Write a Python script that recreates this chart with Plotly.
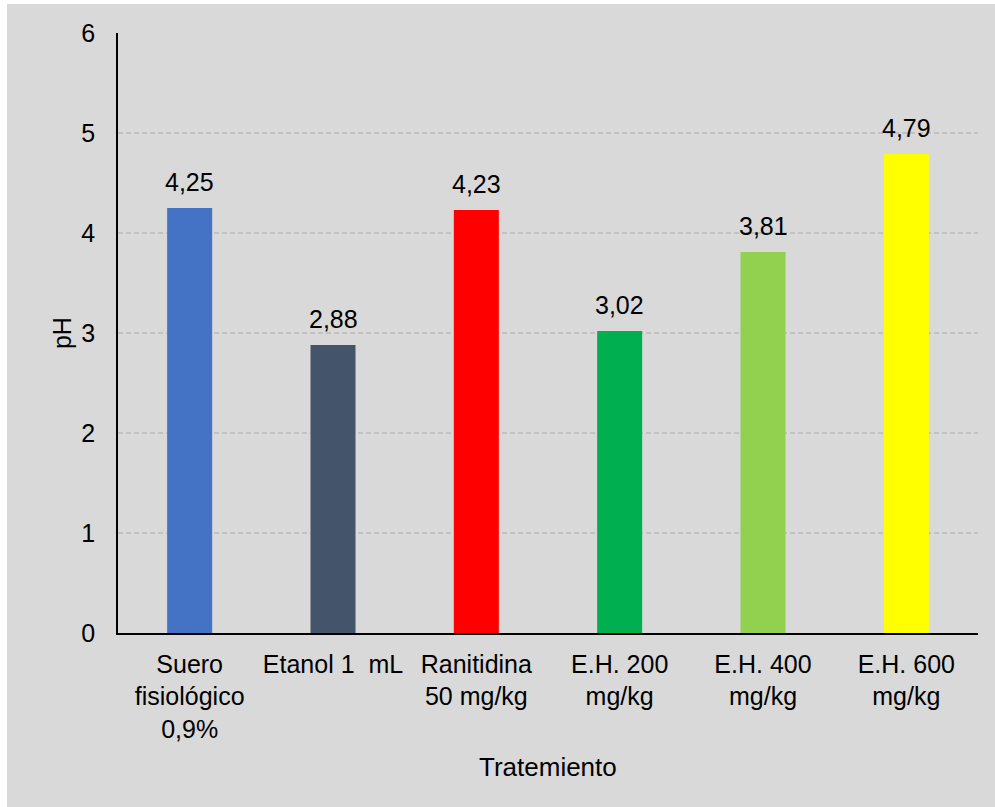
import plotly.graph_objects as go

# Gastric pH by treatment group
categories = [
    "Suero<br>fisiológico<br>0,9%",
    "Etanol 1\u00a0 mL",
    "Ranitidina<br>50 mg/kg",
    "E.H. 200<br>mg/kg",
    "E.H. 400<br>mg/kg",
    "E.H. 600<br>mg/kg",
]
ph_values = [4.25, 2.88, 4.23, 3.02, 3.81, 4.79]
bar_colors = ["#4472C4", "#44546A", "#FF0000", "#00B050", "#92D050", "#FFFF00"]
y_ticks = [0, 1, 2, 3, 4, 5, 6]

FONT = "Liberation Sans, Arial, sans-serif"
BG = "#d9d9d9"

fig = go.Figure(
    go.Bar(
        x=categories,
        y=ph_values,
        marker=dict(color=bar_colors, line=dict(width=0)),
        width=0.314,
        hoverinfo="x+y",
    )
)

# value labels above each bar, using comma decimals
for cat, val in zip(categories, ph_values):
    fig.add_annotation(
        x=cat, y=val, text=f"{val:.2f}".replace(".", ","),
        showarrow=False, yanchor="bottom", yshift=10,
        font=dict(family=FONT, size=25, color="#000000"),
    )

# axis titles
fig.add_annotation(
    x=0.5, y=-0.2, xref="paper", yref="paper", yanchor="middle",
    text="Tratemiento", showarrow=False,
    font=dict(family=FONT, size=26, color="#000000"),
    yshift=-14,
)
fig.add_annotation(
    x=-0.065, y=0.5, xref="paper", yref="paper", xanchor="center",
    text="pH", textangle=-90, showarrow=False,
    font=dict(family=FONT, size=25, color="#000000"),
)

# gray chart panel with a thin white edge on the top and left
L, R, T, B = 118, 17, 33, 174
W, H = 995, 807
pw, ph = W - L - R, H - T - B
fig.add_shape(
    type="rect", xref="paper", yref="paper", layer="below",
    x0=(7 - L) / pw, x1=(W - L) / pw,
    y0=-B / ph, y1=(H - B - 4) / ph,
    fillcolor=BG, line=dict(width=0),
)

fig.update_layout(
    width=W, height=H,
    margin=dict(l=L, r=R, t=T, b=B, autoexpand=False),
    paper_bgcolor="#ffffff",
    plot_bgcolor=BG,
    showlegend=False,
    separators=", ",
    bargap=0.686,
    font=dict(family=FONT, size=25, color="#000000"),
)
fig.update_xaxes(
    showline=True, linecolor="#000000", linewidth=1.5,
    showgrid=False, ticks="", ticklabelstandoff=8,
    tickfont=dict(family=FONT, size=25, color="#000000"),
    automargin=False,
)
fig.update_yaxes(
    range=[0, 6], tickvals=y_ticks,
    showline=True, linecolor="#000000", linewidth=1.5,
    showgrid=True, gridcolor="#c2c2c2", gridwidth=1.5, griddash="5px,3px",
    zeroline=False, ticks="", ticklabelstandoff=16,
    tickfont=dict(family=FONT, size=25, color="#000000"),
    automargin=False,
)

fig.write_html("out.html")
